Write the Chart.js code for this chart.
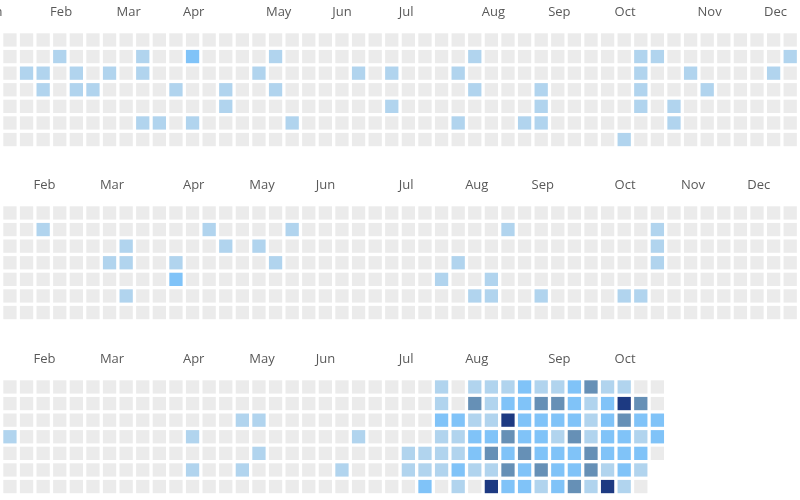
<!DOCTYPE html>
<html><head><meta charset="utf-8">
<script src="https://cdn.jsdelivr.net/npm/chart.js@4"></script>
<style>
html,body{margin:0;padding:0;background:#fff;overflow:hidden;width:800px;height:500px}
.p{position:absolute;left:0;width:800px;height:173px}
</style></head><body>
<div class="p" style="top:0px"><canvas id="c0"></canvas></div>
<div class="p" style="top:173.4px"><canvas id="c1"></canvas></div>
<div class="p" style="top:346.7px"><canvas id="c2"></canvas></div>
<script>
// level colours: 0 = empty
const levelColors = ['#ebebeb', '#b1d4ee', '#80c3f8', '#6690b6', '#1d3a82'];

// panel 1: weeks -1..47, all days; active cells [week, day, level]
const weeks1 = [-1, 47];
const cells1 = [
 [3,1,1],[8,1,1],[11,1,2],[16,1,1],[28,1,1],[38,1,1],[39,1,1],[47,1,1],
 [-1,2,1],[1,2,1],[2,2,1],[4,2,1],[6,2,1],[8,2,1],[15,2,1],[21,2,1],[23,2,1],[27,2,1],[38,2,1],[41,2,1],[46,2,1],
 [2,3,1],[4,3,1],[5,3,1],[10,3,1],[13,3,1],[16,3,1],[28,3,1],[32,3,1],[38,3,1],[42,3,1],
 [13,4,1],[23,4,1],[32,4,1],[38,4,1],[40,4,1],
 [8,5,1],[9,5,1],[11,5,1],[17,5,1],[27,5,1],[31,5,1],[32,5,1],[40,5,1],
 [37,6,1]
];
const months1 = [['Jan',-1],['Feb',3],['Mar',7],['Apr',11],['May',16],['Jun',20],['Jul',24],['Aug',29],['Sep',33],['Oct',37],['Nov',42],['Dec',46]];

// panel 2
const weeks2 = [-1, 47];
const cells2 = [
 [2,1,1],[12,1,1],[17,1,1],[30,1,1],[39,1,1],
 [7,2,1],[13,2,1],[15,2,1],[39,2,1],
 [6,3,1],[7,3,1],[10,3,1],[16,3,1],[27,3,1],[39,3,1],
 [10,4,2],[26,4,1],[29,4,1],
 [7,5,1],[28,5,1],[29,5,1],[32,5,1],[37,5,1],[38,5,1]
];
const months2 = [['Feb',2],['Mar',6],['Apr',11],['May',15],['Jun',19],['Jul',24],['Aug',28],['Sep',32],['Oct',37],['Nov',41],['Dec',45]];

// panel 3: ends at week 39, day 4
const weeks3 = [-1, 39];
const lastDay3 = 4;
const cells3 = [
 [14,2,1],[15,2,1],
 [0,3,1],[11,3,1],[21,3,1],
 [15,4,1],
 [11,5,1],[14,5,1],[20,5,1]
];
// dense part of panel 3, one string per day, starting at week 23
const denseStart3 = 23;
const denseRows3 = [
 '00010111211231100',
 '00010312233212430',
 '00022114222212322',
 '00011223221312212',
 '01111232322232220',
 '0111211323223121',
 '0020104221231410'
];
const months3 = [['Feb',2],['Mar',6],['Apr',11],['May',15],['Jun',19],['Jul',24],['Aug',28],['Sep',33],['Oct',37]];

function buildPanel(weeks, cells, lastDay, denseStart, denseRows) {
  const lv = {};
  cells.forEach(([w,d,l]) => lv[w+','+d] = l);
  if (denseRows) denseRows.forEach((s,d) => { for (let i=0;i<s.length;i++) lv[(denseStart+i)+','+d] = +s[i]; });
  const pts = [], cols = [];
  for (let w = weeks[0]; w <= weeks[1]; w++) {
    for (let d = 0; d < 7; d++) {
      if (w === weeks[1] && lastDay !== undefined && d > lastDay) continue;
      const l = lv[w+','+d] || 0;
      pts.push({x:w, y:d}); cols.push(levelColors[l]);
    }
  }
  return {pts, cols};
}

const monthPlugin = {
  id: 'months',
  afterDraw(chart, args, opts) {
    const ctx = chart.ctx, xs = chart.scales.x, ys = chart.scales.y;
    ctx.save();
    ctx.font = '13px "Open Sans"';
    ctx.fillStyle = '#595959';
    ctx.textAlign = 'left'; ctx.textBaseline = 'middle';
    opts.labels.forEach(([t,w]) => ctx.fillText(t, xs.getPixelForValue(w - 0.58), ys.getPixelForValue(-1.68)));
    ctx.restore();
  }
};

function make(id, weeks, cells, months, lastDay, ds, dr) {
  const p = buildPanel(weeks, cells, lastDay, ds, dr);
  new Chart(document.getElementById(id), {
    type: 'scatter',
    data: { datasets: [{ data: p.pts, backgroundColor: p.cols, pointStyle: 'rect', pointRadius: 9.4, pointHoverRadius: 9.4, borderWidth: 0, clip: false }] },
    options: {
      responsive: true, maintainAspectRatio: false, animation: false,
      layout: { padding: 0, autoPadding: false },
      events: [],
      plugins: { legend: {display:false}, tooltip: {enabled:false}, months: { labels: months } },
      scales: {
        x: { type:'linear', display:false, min:-0.599, max:47.59 },
        y: { type:'linear', display:false, reverse:true, min:-2.407, max:8.015 }
      }
    },
    plugins: [monthPlugin]
  });
}
make('c0', weeks1, cells1, months1);
make('c1', weeks2, cells2, months2);
make('c2', weeks3, cells3, months3, lastDay3, denseStart3, denseRows3);
</script></body></html>
